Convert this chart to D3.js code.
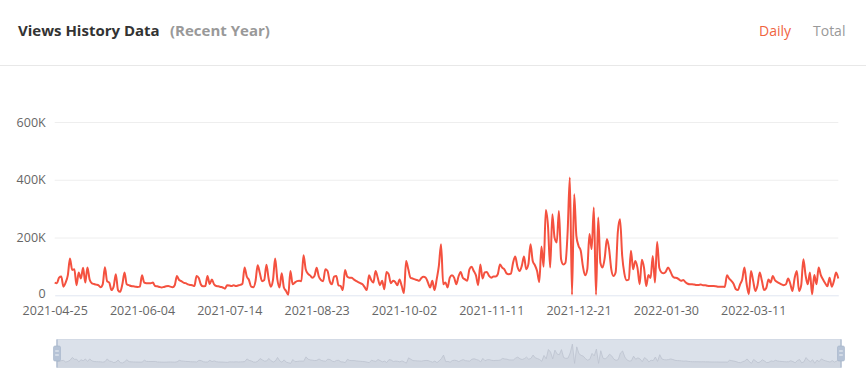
<!DOCTYPE html>
<html><head><meta charset="utf-8">
<script src="https://cdn.jsdelivr.net/npm/d3@7"></script>
<style>
body{margin:0;background:#fff;}
svg{display:block;font-family:"Open Sans",sans-serif;}
</style>
</head><body>
<svg id="chart" width="866" height="385"></svg>
<script>
// ---- data (daily views, in thousands) ----
const startDate = "2021-04-25";
const viewsK = [
  44,42,61,65,30,44,69,127,88,90,
  35,79,58,95,44,96,55,42,39,37,
  35,28,38,97,49,44,18,30,73,18,
  12,38,79,38,35,32,31,30,29,30,
  69,44,42,42,42,44,32,31,29,27,
  29,31,32,30,28,35,67,53,49,44,
  42,38,36,35,32,67,60,37,31,32,
  67,39,55,38,32,31,29,27,23,35,
  34,32,35,32,34,36,40,96,65,53,
  30,28,49,104,76,49,53,106,58,30,
  53,127,55,27,76,27,15,2,84,38,
  44,49,50,49,139,90,75,69,61,67,
  95,65,53,49,90,84,49,38,65,67,
  35,32,18,88,65,61,61,55,50,46,
  42,38,28,18,69,53,44,84,61,35,
  50,21,81,73,42,50,46,35,55,32,
  8,119,90,61,58,55,53,50,60,64,
  61,44,27,50,18,55,102,177,38,44,
  27,61,69,61,38,65,81,60,55,50,
  90,99,84,69,35,107,58,79,81,67,
  61,65,65,73,107,96,90,76,73,75,
  113,134,99,84,102,134,90,107,177,119,
  104,84,46,169,99,295,240,96,281,200,
  183,292,125,107,113,220,408,2,350,206,
  171,154,100,69,90,212,160,304,2,269,
  113,96,130,195,160,90,67,80,220,263,
  136,75,52,55,154,90,119,95,38,123,
  95,32,70,60,136,44,185,95,79,76,
  82,96,84,67,61,60,55,50,53,45,
  40,38,38,37,36,36,37,35,35,33,
  32,32,32,31,30,30,30,29,69,58,
  50,40,22,18,38,55,96,40,4,84,
  50,15,35,79,50,18,25,55,44,67,
  52,46,42,38,35,38,58,40,15,60,
  84,15,35,125,70,38,79,4,70,38,
  96,70,55,42,31,61,30,50,79,58
];
const yTicks = [0, 200000, 400000, 600000];
const yTickLabels = ["0", "200K", "400K", "600K"];
const xTickLabels = ["2021-04-25","2021-06-04","2021-07-14","2021-08-23","2021-10-02","2021-11-11","2021-12-21","2022-01-30","2022-03-11"];
const titleText = "Views History Data";
const subtitleText = "(Recent Year)";
const tabs = ["Daily", "Total"];

(function () {
// ---- derived ----
const views = viewsK.map(v => v * 1000);
const fmt = d3.timeFormat("%Y-%m-%d");
const parse = d3.timeParse("%Y-%m-%d");
const t0 = parse(startDate);
const dates = views.map((_, i) => fmt(d3.timeDay.offset(t0, i)));
const data = dates.map((d, i) => ({date: d, value: views[i]}));

const svg = d3.select("#chart");

// ---- header ----
svg.append("text").attr("x", 18).attr("y", 36)
  .attr("font-size", 15).attr("font-weight", 700).attr("fill", "#333")
  .text(titleText);
svg.append("text").attr("x", 170).attr("y", 36)
  .attr("font-size", 15).attr("font-weight", 700).attr("fill", "#999")
  .text(subtitleText);
const tabX = [759, 813];
const tabColor = ["#f0643f", "#999"];
svg.selectAll(".tab").data(tabs).join("text").attr("class", "tab")
  .attr("x", (d, i) => tabX[i]).attr("y", 36)
  .attr("font-size", 14).attr("fill", (d, i) => tabColor[i])
  .text(d => d);
svg.append("line").attr("x1", 0).attr("x2", 866).attr("y1", 65.5).attr("y2", 65.5)
  .attr("stroke", "#e8e8e8");

// ---- main plot ----
const pl = 54.7, pr = 838.3, pt = 122, pb = 295.3;
const x = d3.scalePoint().domain(dates).range([pl, pr]);
const y = d3.scaleLinear().domain([0, 600000]).range([pb, pt]);

// grid
svg.append("g").attr("transform", `translate(${pl},0)`)
  .call(d3.axisLeft(y).tickValues(yTicks.slice(1)).tickSize(-(pr - pl)).tickFormat(""))
  .call(g => g.select(".domain").remove())
  .call(g => g.selectAll("line").attr("stroke", "#eeeeee"));

// y labels
svg.append("g").attr("transform", `translate(${pl},0)`)
  .call(d3.axisLeft(y).tickValues(yTicks).tickSize(0).tickPadding(9)
    .tickFormat((d, i) => yTickLabels[i]))
  .call(g => g.select(".domain").remove())
  .call(g => g.selectAll("text").attr("fill", "#666").attr("font-size", 12.5)
    .attr("font-family", "'Open Sans',sans-serif")
    .attr("y", d => d === 0 ? -1.5 : 0));

// x axis
svg.append("g").attr("transform", `translate(0,${pb})`)
  .call(d3.axisBottom(x).tickValues(xTickLabels).tickSize(0).tickPadding(11))
  .call(g => g.select(".domain").attr("stroke", "#e0e6f1"))
  .call(g => g.selectAll("text").attr("fill", "#666").attr("font-size", 12.5)
    .attr("font-family", "'Open Sans',sans-serif"));

// line
const line = d3.line().x(d => x(d.date)).y(d => y(d.value)).curve(d3.curveMonotoneX);
svg.append("path").datum(data).attr("d", line)
  .attr("fill", "none").attr("stroke", "#f4513f").attr("stroke-width", 2)
  .attr("stroke-linejoin", "round");

// ---- data zoom slider ----
const zl = 57, zr = 841, zt = 339.5, zb = 367.5;
svg.append("rect").attr("x", zl).attr("y", zt).attr("width", zr - zl).attr("height", zb - zt)
  .attr("fill", "#dbe1ea").attr("stroke", "#d3dae5");
const x2 = d3.scalePoint().domain(dates).range([zl, zr]);
const y2 = d3.scaleLinear().domain([0, 410000]).range([363.5, 344]);
const area2 = d3.area().x(d => x2(d.date)).y0(zb).y1(d => y2(d.value));
svg.append("path").datum(data).attr("d", area2).attr("fill", "#d0d6e0");
svg.append("path").datum(data).attr("d", d3.line().x(d => x2(d.date)).y(d => y2(d.value)))
  .attr("fill", "none").attr("stroke", "#bcc3cf").attr("stroke-width", 0.8);
[zl, zr].forEach(hx => {
  svg.append("line").attr("x1", hx).attr("x2", hx).attr("y1", zt).attr("y2", zb)
    .attr("stroke", "#a8b7cc").attr("stroke-width", 1.2);
  svg.append("rect").attr("x", hx - 3.5).attr("y", 346).attr("width", 7).attr("height", 15)
    .attr("rx", 1.5).attr("fill", "#b6c3d6").attr("stroke", "#a3b2c8").attr("stroke-width", 0.6);
  [351, 355].forEach(ly => svg.append("line").attr("x1", hx - 1.8).attr("x2", hx + 1.8)
    .attr("y1", ly).attr("y2", ly).attr("stroke", "#fff").attr("stroke-width", 0.8));
});
})();
</script>
</body></html>
